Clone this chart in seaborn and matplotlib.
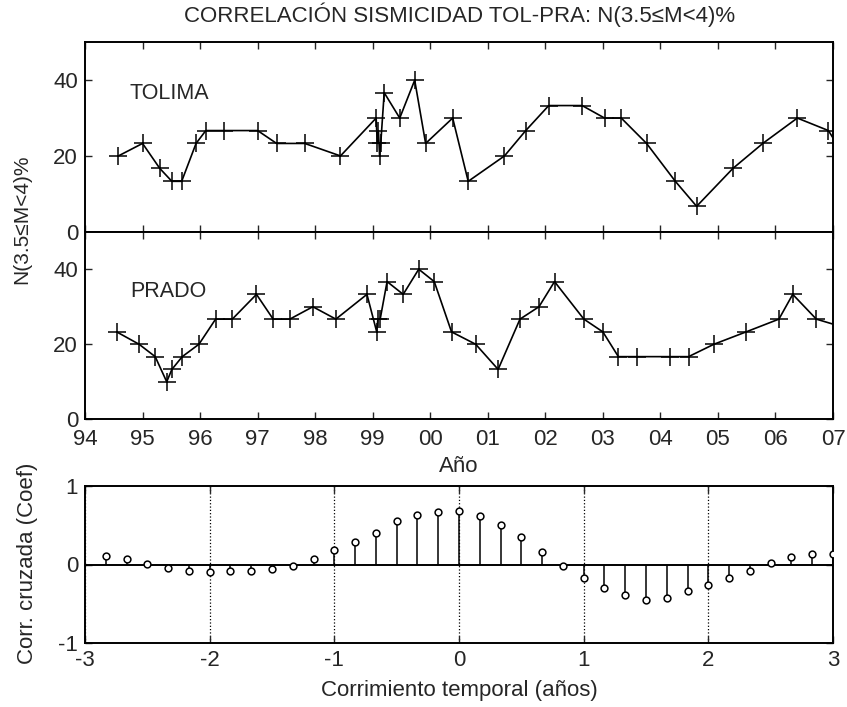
import numpy as np
import pandas as pd
import matplotlib
matplotlib.use("Agg")
import matplotlib.pyplot as plt
import seaborn as sns

# Percentage of events with 3.5 <= M < 4, Tolima
tolima_year = [1994.58, 1995.00, 1995.30, 1995.51, 1995.68, 1995.93, 1996.10, 1996.42,
               1997.00, 1997.33, 1997.82, 1998.44, 1999.06, 1999.08, 1999.10, 1999.12,
               1999.14, 1999.20, 1999.47, 1999.73, 1999.92, 2000.39, 2000.66, 2001.29,
               2001.66, 2002.06, 2002.64, 2003.03, 2003.32, 2003.76, 2004.26, 2004.63,
               2005.26, 2005.78, 2006.38, 2006.92, 2007.06]
tolima_pct = [20.0, 23.3, 16.7, 13.3, 13.3, 23.3, 26.7, 26.7,
              26.7, 23.3, 23.3, 20.0, 30.0, 23.3, 26.7, 20.0,
              23.3, 36.7, 30.0, 40.0, 23.3, 30.0, 13.3, 20.0,
              26.7, 33.3, 33.3, 30.0, 30.0, 23.3, 13.3, 6.7,
              16.7, 23.3, 30.0, 26.7, 23.3]

# Percentage of events with 3.5 <= M < 4, Prado
prado_year = [1994.55, 1994.94, 1995.22, 1995.42, 1995.51, 1995.69, 1995.98, 1996.27,
              1996.56, 1996.98, 1997.27, 1997.56, 1997.96, 1998.36, 1998.90, 1999.07,
              1999.09, 1999.13, 1999.25, 1999.53, 1999.80, 2000.07, 2000.37, 2000.79,
              2001.18, 2001.56, 2001.89, 2002.16, 2002.67, 2003.00, 2003.27, 2003.60,
              2004.17, 2004.49, 2004.93, 2005.49, 2006.06, 2006.30, 2006.71, 2007.45]
prado_pct = [23.3, 20.0, 16.7, 10.0, 13.3, 16.7, 20.0, 26.7,
             26.7, 33.3, 26.7, 26.7, 30.0, 26.7, 33.3, 23.3,
             26.7, 26.7, 36.7, 33.3, 40.0, 36.7, 23.3, 20.0,
             13.3, 26.7, 30.0, 36.7, 26.7, 23.3, 16.7, 16.7,
             16.7, 16.7, 20.0, 23.3, 26.7, 33.3, 26.7, 23.3]

# Cross-correlation coefficients, lag step of two months
lag_index = list(range(-17, 19))
xcorr_coef = [0.11, 0.07, 0.005, -0.04, -0.08, -0.10, -0.08, -0.08, -0.06, -0.02,
              0.07, 0.18, 0.29, 0.40, 0.55, 0.63, 0.66, 0.68,
              0.61, 0.50, 0.35, 0.16, -0.02, -0.17, -0.30, -0.39, -0.45, -0.43,
              -0.34, -0.26, -0.17, -0.08, 0.02, 0.09, 0.13, 0.13]

year_ticks = list(range(1994, 2008))
year_labels = ["94", "95", "96", "97", "98", "99", "00", "01", "02", "03", "04", "05", "06", "07"]

sns.set_style("ticks")
plt.rcParams["font.family"] = ["Liberation Sans", "DejaVu Sans"]
plt.rcParams.update({
    "axes.unicode_minus": False,
    "xtick.direction": "in", "ytick.direction": "in",
    "xtick.top": True, "ytick.right": True,
    "xtick.major.size": 5, "ytick.major.size": 5,
    "xtick.major.width": 1.0, "ytick.major.width": 1.0,
    "xtick.major.pad": 5, "ytick.major.pad": 5,
    "axes.linewidth": 1.4, "axes.edgecolor": "black",
    "xtick.labelsize": 16, "ytick.labelsize": 16,
    "axes.labelsize": 16,
})

W, H = 847, 707
fig = plt.figure(figsize=(W / 100, H / 100), dpi=100)

def frame(x0, y0, x1, y1):
    return [x0 / W, 1 - y1 / H, (x1 - x0) / W, (y1 - y0) / H]

ax1 = fig.add_axes(frame(85, 42.3, 833, 231.7))
ax2 = fig.add_axes(frame(85, 231.7, 833, 419.3))
ax3 = fig.add_axes(frame(85, 485.7, 833, 643.3))

df_t = pd.DataFrame({"year": tolima_year, "pct": tolima_pct})
df_p = pd.DataFrame({"year": prado_year, "pct": prado_pct})

line_kw = dict(color="black", linewidth=1.2, marker="+", markersize=13,
               markeredgewidth=1.1, markeredgecolor="black",
               sort=False, estimator=None)
sns.lineplot(data=df_t, x="year", y="pct", ax=ax1, **line_kw)
sns.lineplot(data=df_p, x="year", y="pct", ax=ax2, **line_kw)

for ax, name, ty in ((ax1, "TOLIMA", 36.6), (ax2, "PRADO", 34.0)):
    ax.set_xlim(1994, 2007)
    ax.set_ylim(0, 50)
    ax.set_xticks(year_ticks)
    ax.set_yticks([0, 20, 40])
    ax.set_ylabel("")
    ax.text(1994.78, ty, name, fontsize=15.5, va="center", ha="left")

ax1.set_xticklabels([])
ax1.set_xlabel("")
ax2.set_xticklabels(year_labels)
ax2.tick_params(axis="x", pad=7)
ax2.set_xlabel("Año", labelpad=4)

# Cross-correlation stem plot
lags = np.array(lag_index) / 6.0
df_c = pd.DataFrame({"lag": lags, "coef": xcorr_coef})
ax3.axhline(0, color="black", linewidth=1.4, zorder=1)
ax3.vlines(df_c["lag"], 0, df_c["coef"], color="black", linewidth=1.1, zorder=2)
sns.scatterplot(data=df_c, x="lag", y="coef", ax=ax3, marker="o", s=24,
                facecolor="white", edgecolor="black", linewidth=1.1, zorder=3)
ax3.set_xlim(-3, 3)
ax3.set_ylim(-1, 1)
ax3.set_xticks([-3, -2, -1, 0, 1, 2, 3])
ax3.set_yticks([-1, 0, 1])
ax3.grid(axis="x", linestyle=":", color="black", linewidth=0.9)
ax3.set_xlabel("Corrimiento temporal (años)", labelpad=6)
ax3.set_ylabel("")

fig.text(22 / W, 1 - 219 / H, "N(3.5≤M<4)%", rotation=90, fontsize=15,
         ha="center", va="center")
fig.text(28 / W, 1 - 563 / H, "Corr. cruzada (Coef)", rotation=90, fontsize=16,
         ha="center", va="center")
fig.text(460 / W, 1 - 15 / H, "CORRELACIÓN SISMICIDAD TOL-PRA: N(3.5≤M<4)%",
         fontsize=16, ha="center", va="center")

fig.savefig("out.png", dpi=100)
